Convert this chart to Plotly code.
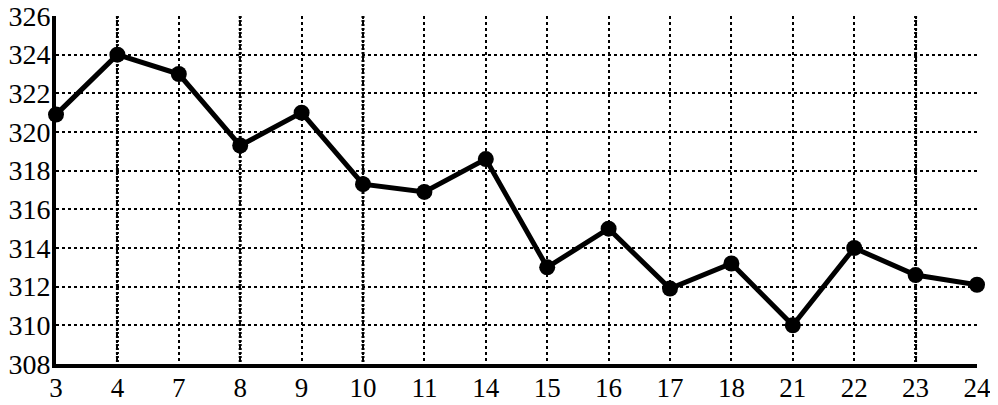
import plotly.graph_objects as go

categories = ["3", "4", "7", "8", "9", "10", "11", "14", "15", "16", "17", "18", "21", "22", "23", "24"]
values = [320.9, 324.0, 323.0, 319.3, 321.0, 317.3, 316.9, 318.6, 313.0, 315.0, 311.9, 313.2, 310.0, 314.0, 312.6, 312.1]
y_ticks = [308, 310, 312, 314, 316, 318, 320, 322, 324, 326]
bold_grid_cats = ["4", "8", "10", "23"]

fig = go.Figure()
fig.add_trace(go.Scatter(
    x=categories, y=values, mode="lines+markers",
    line=dict(color="#000000", width=5),
    marker=dict(color="#000000", size=16),
    cliponaxis=False, showlegend=False,
))

for c in bold_grid_cats:
    idx = categories.index(c)
    fig.add_shape(type="line", xref="x", yref="paper", x0=idx, x1=idx, y0=1, y1=0,
                  line=dict(color="#000000", width=3, dash="2px,2px"), layer="below")

# page body adds an 8px margin, so the figure is sized to the remaining viewport
fig.update_layout(
    width=990, height=397,
    margin=dict(l=48, r=21, t=8, b=41, autoexpand=False),
    paper_bgcolor="white", plot_bgcolor="white",
    font=dict(family="Liberation Serif, Times New Roman, serif", size=28, color="#000000"),
    xaxis=dict(
        type="category", range=[0, 15], automargin=False,
        showgrid=True, gridcolor="#000000", gridwidth=2, griddash="dot",
        showline=True, linecolor="#000000", linewidth=4,
        ticks="", ticklen=0, tickfont=dict(size=27), zeroline=False,
        ticklabeloverflow="allow", ticklabelstandoff=-3,
    ),
    yaxis=dict(
        range=[308, 326], tickvals=y_ticks, ticktext=[str(v) for v in y_ticks],
        automargin=False,
        showgrid=True, gridcolor="#000000", gridwidth=2, griddash="dot",
        showline=True, linecolor="#000000", linewidth=4,
        ticks="", tickfont=dict(size=28), zeroline=False,
        ticklabeloverflow="allow", ticklabelstandoff=-4,
    ),
)

fig.write_html("out.html")
